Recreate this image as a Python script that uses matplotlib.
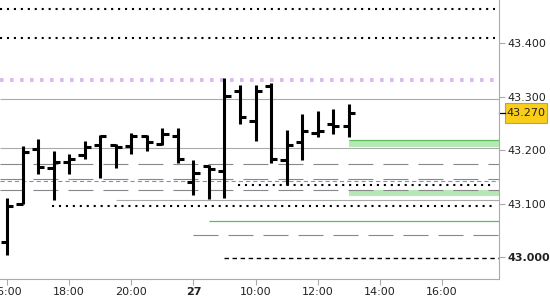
# OHLC bar chart (30 min bars) with horizontal level lines, price axis on the right

import numpy as np
import matplotlib.pyplot as plt
from matplotlib.patches import Rectangle
import matplotlib.transforms as mtransforms

plt.rcParams['font.family'] = ['DejaVu Sans']
plt.rcParams['lines.scale_dashes'] = False

# data: session 26th 16:00-21:30, then 27th 08:00-13:00
bar_times = ["16:00", "16:30", "17:00", "17:30", "18:00", "18:30", "19:00", "19:30",
             "20:00", "20:30", "21:00", "21:30",
             "08:00", "08:30", "09:00", "09:30", "10:00", "10:30", "11:00", "11:30",
             "12:00", "12:30", "13:00"]
opens = [43.029, 43.100, 43.202, 43.166, 43.179, 43.192, 43.210, 43.210, 43.208, 43.227,
         43.211, 43.227, 43.141, 43.171, 43.161, 43.310, 43.254, 43.320, 43.181, 43.216,
         43.232, 43.250, 43.245]
highs = [43.111, 43.208, 43.221, 43.199, 43.193, 43.217, 43.229, 43.211, 43.232, 43.229,
         43.242, 43.242, 43.182, 43.173, 43.335, 43.322, 43.322, 43.325, 43.238, 43.268,
         43.273, 43.277, 43.287]
lows = [43.004, 43.100, 43.155, 43.107, 43.155, 43.183, 43.148, 43.167, 43.194, 43.199,
        43.210, 43.177, 43.116, 43.109, 43.110, 43.249, 43.218, 43.177, 43.135, 43.182,
        43.224, 43.230, 43.224]
closes = [43.096, 43.196, 43.169, 43.179, 43.184, 43.207, 43.227, 43.207, 43.227, 43.215,
          43.230, 43.184, 43.157, 43.165, 43.301, 43.262, 43.310, 43.184, 43.210, 43.236,
          43.236, 43.245, 43.270]
last_price = 43.270

# x axis labels (every 2 hours of trading time)
tick_labels = ["16:00", "18:00", "20:00", "27", "10:00", "12:00", "14:00", "16:00"]
price_ticks = [43.0, 43.1, 43.2, 43.3, 43.4]

# horizontal levels (and the bar index where some of them start)
dotted_levels = [43.464, 43.410]
dotted_levels_from = [43.096, 43.135]
dotted_levels_from_bar = [3, 15]
pivot_level = 43.331
solid_levels = [43.295, 43.204]
solid_level_from = 43.108
solid_level_from_bar = 7
dashed_levels = [43.174, 43.146, 43.125]
blue_level = 43.142
green_level = 43.068
green_level_from_bar = 13
dashed_level_low = 43.042
dashed_level_low_from_bar = 12
black_dash_level = 42.999
black_dash_level_from_bar = 14
zone_upper = (43.207, 43.219)
zone_lower = (43.115, 43.126)
zone_from_bar = 22

x = np.arange(len(bar_times)) * 0.5     # hours of trading time
x_start, x_end = -0.225, 15.835
dots_end = 15.71

fig = plt.figure(figsize=(5.5, 3), dpi=100)
ax = fig.add_axes([0, 0.07, 0.9073, 0.93])
ax.set_xlim(x_start, x_end)
ax.set_ylim(42.9594, 43.481)

# levels
dot_style = dict(color="black", lw=1.5, linestyles=[(0, (1.5, 3.5))], capstyle="butt")
ax.hlines(dotted_levels, x_start, dots_end, **dot_style)
for lev, b in zip(dotted_levels_from, dotted_levels_from_bar):
    ax.hlines(lev, x[b] - 0.05, dots_end, **dot_style)
ax.hlines(pivot_level, x_start, dots_end, color="#d9b9ef", lw=2.8,
          linestyles=[(0, (2.6, 4.6))], capstyle="butt")
ax.hlines(solid_levels, x_start, x_end, color="#aaaaaa", lw=0.8)
ax.hlines(solid_level_from, x[solid_level_from_bar], x_end, color="#aaaaaa", lw=0.8)
ax.hlines(dashed_levels, x_start, x_end, color="#888888", lw=0.8,
          linestyles=[(1.5, (18, 7.2))], capstyle="butt")
ax.hlines(blue_level, x_start, x_end, color="#6a92e8", lw=0.8,
          linestyles=[(0, (3, 2.2))], capstyle="butt")
ax.hlines(green_level, x[green_level_from_bar], x_end, color="#5cbf5c", lw=0.9)
ax.hlines(dashed_level_low, x[dashed_level_low_from_bar], x_end, color="#888888", lw=0.8,
          linestyles=[(0, (18, 7.2))], capstyle="butt")
ax.hlines(black_dash_level, x[black_dash_level_from_bar], x_end, color="black", lw=1.0,
          linestyles=[(0, (3.2, 2.6))], capstyle="butt")
for z in (zone_upper, zone_lower):
    ax.fill_between([x[zone_from_bar], x_end], z[0], z[1], color="#b5e8b5", lw=0)
ax.hlines(zone_upper[1], x[zone_from_bar], x_end, color="#5cbf5c", lw=0.9)

# OHLC bars
w = 0.2
ax.vlines(x, lows, highs, color="black", lw=2.2)
ax.hlines(opens, x - w, x, color="black", lw=2.2)
ax.hlines(closes, x, x + w, color="black", lw=2.2)

# axes styling
for s in ("left", "top"):
    ax.spines[s].set_visible(False)
for s in ("right", "bottom"):
    ax.spines[s].set_color("#aaaaaa")
ax.set_xticks(np.arange(len(tick_labels)) * 2)
ax.set_xticklabels(tick_labels)
ax.get_xticklabels()[3].set_fontweight("bold")
ax.yaxis.tick_right()
ax.set_yticks(price_ticks)
ax.set_yticklabels(["%.3f" % p for p in price_ticks])
ax.get_yticklabels()[0].set_fontweight("bold")
ax.tick_params(axis="both", colors="#aaaaaa", labelcolor="#222222", labelsize=8,
               length=4, width=0.8, pad=2)

# current price marker
trans = mtransforms.blended_transform_factory(ax.transAxes, ax.transData)
ax.plot([1.0, 1.012], [last_price, last_price], color="black", lw=0.9, transform=trans,
        clip_on=False)
ax.add_patch(Rectangle((1.012, last_price - 0.0190), 0.0835, 0.0375, transform=trans,
                       facecolor="#f9cd18", edgecolor="#a0a0a0", lw=0.8, clip_on=False))
ax.text(1.0538, last_price, "%.3f" % last_price, transform=trans, ha="center", va="center",
        fontsize=8, color="#222222")

fig.savefig("out.png", dpi=100)
